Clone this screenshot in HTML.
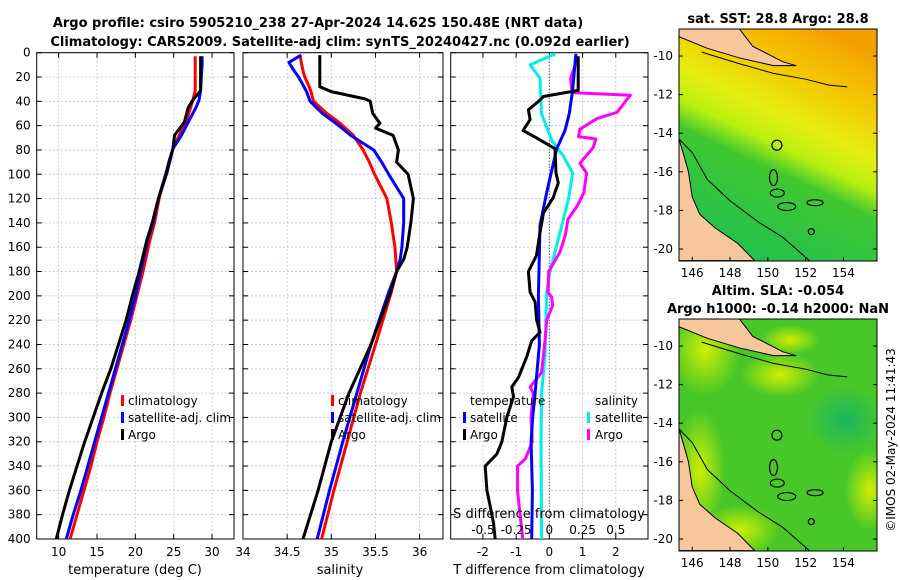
<!DOCTYPE html>
<html><head><meta charset="utf-8"><style>
body{margin:0;background:#fff;}
svg{display:block;font-family:"DejaVu Sans","Liberation Sans",sans-serif;}
</style></head><body>
<svg id="fig" width="900" height="580" viewBox="0 0 900 580" xmlns="http://www.w3.org/2000/svg">
<rect width="900" height="580" fill="#fff"/>
<text x="318" y="27" text-anchor="middle" font-size="13" font-weight="bold">Argo profile: csiro 5905210_238 27-Apr-2024 14.62S 150.48E (NRT data)</text>
<text x="340" y="46" text-anchor="middle" font-size="13" font-weight="bold">Climatology: CARS2009. Satellite-adj clim: synTS_20240427.nc (0.092d earlier)</text>
<g id="panels"></g>
<g id="maps"></g>
<text transform="translate(895,440) rotate(-90)" text-anchor="middle" font-size="12">©IMOS 02-May-2024 11:41:43</text>
</svg>
<script>
// ---- data ----
const tDepth=[3,10,20,31,39,45,57,68,79,89,99,120,140,154,180,200,220,240,260,280,300,320,340,360,380,400];
const tClim=[27.8,27.8,27.8,27.8,27.5,27.2,26.6,25.7,24.9,24.5,24.0,23.1,22.5,21.9,21.0,20.2,19.4,18.5,17.6,16.7,15.9,15.0,14.2,13.3,12.4,11.5];
const tSat=[28.7,28.7,28.6,28.5,28.3,27.9,26.9,26.0,24.9,24.4,24.0,23.0,22.3,21.6,20.7,20.0,19.2,18.3,17.4,16.5,15.6,14.7,13.8,12.9,11.9,11.0];
const tArgo=[28.5,28.5,28.5,28.5,27.5,26.9,26.4,25.1,24.9,24.5,24.1,23.0,22.2,21.5,20.5,19.6,18.8,17.8,16.8,15.6,14.5,13.4,12.4,11.4,10.5,9.7];
const sDepth=[2,8,15,20,28,32,38,40,50,58,62,68,80,90,100,120,140,160,170,180,197,240,280,320,360,400];
const sClim=[34.645,34.66,34.68,34.70,34.75,34.77,34.79,34.80,34.95,35.10,35.16,35.25,35.36,35.43,35.49,35.63,35.68,35.72,35.73,35.74,35.68,35.50,35.33,35.18,35.03,34.89];
const sSat=[34.66,34.52,34.58,34.63,34.69,34.72,34.75,34.76,34.90,35.05,35.12,35.22,35.48,35.57,35.65,35.82,35.82,35.80,35.78,35.74,35.65,35.45,35.29,35.13,34.98,34.84];
const sArgo=[34.87,34.87,34.87,34.87,34.87,35.0,35.38,35.44,35.47,35.55,35.50,35.70,35.76,35.74,35.87,35.93,35.90,35.86,35.82,35.74,35.67,35.45,35.20,35.00,34.85,34.68];
const dtArgoDepth=[3,31,36,39,47,55,64,70,79,99,107,119,132,148,167,180,197,205,220,230,237,250,267,275,283,300,320,330,340,360,373,387,400];
const dtArgo=[0.87,0.87,-0.18,-0.28,-0.63,-0.58,-0.79,-0.39,0.17,0.20,0.27,0.12,-0.18,-0.28,-0.39,-0.63,-0.58,-0.43,-0.38,-0.28,-0.53,-0.68,-0.93,-1.13,-1.08,-1.28,-1.43,-1.58,-1.93,-1.88,-1.78,-1.68,-1.63];
const dtSatDepth=[1,31,50,64,79,115,142,200,240,280,300,320,360,400];
const dtSat=[0.80,0.70,0.60,0.47,0.22,-0.08,-0.28,-0.33,-0.30,-0.43,-0.50,-0.55,-0.51,-0.53];
const dsSatDepth=[1,10,21,50,72,85,99,121,153,180,197,250,280,320,400];
const dsSat=[0.043,-0.145,-0.07,-0.06,0.018,0.105,0.176,0.143,0.068,0.005,-0.02,-0.033,-0.058,-0.063,-0.058];
const dsArgoDepth=[5,21,30,33,35,39,49,54,63,69,71,78,91,99,115,126,137,150,164,180,197,201,208,220,237,263,275,280,300,320,334,340,360,380,400];
const dsArgo=[0.21,0.16,0.168,0.19,0.61,0.58,0.51,0.36,0.23,0.22,0.35,0.33,0.23,0.28,0.26,0.21,0.14,0.12,0.08,-0.005,-0.01,0.0175,0.025,-0.02,-0.033,-0.058,-0.145,-0.12,-0.138,-0.128,-0.18,-0.24,-0.24,-0.22,-0.2];
const depthTicks=[0,20,40,60,80,100,120,140,160,180,200,220,240,260,280,300,320,340,360,380,400];
const tTicks=[10,15,20,25,30];
const sTicks=[34,34.5,35,35.5,36];
const dtTicks=[-2,-1,0,1,2];
const dsTicks=[-0.5,-0.25,0,0.25,0.5];

const NS="http://www.w3.org/2000/svg";
function mk(tag,attrs,parent){const e=document.createElementNS(NS,tag);for(const k in attrs)e.setAttribute(k,attrs[k]);parent.appendChild(e);return e;}
const Y0=52.7,Y1=539;
const yD=d=>Y0+(Y1-Y0)*d/400;
const P=[{x0:36.7,x1:234,lo:7.14,hi:32.86},{x0:243,x1:443,lo:34,hi:36.265},{x0:450.7,x1:648,lo:-2.97,hi:2.97}];
const xs=(p,v)=>p.x0+(p.x1-p.x0)*(v-p.lo)/(p.hi-p.lo);
const G=document.getElementById('panels');

function axes(p,i,ticks,labels,showY){
  const g=mk('g',{},G);
  
  
  ticks.forEach(t=>{const x=xs(p,t);mk('line',{x1:x,x2:x,y1:Y0,y2:Y1,stroke:'#c4c8e4','stroke-width':1,'stroke-dasharray':'2,2'},g);});
  depthTicks.forEach(d=>{const y=yD(d);mk('line',{x1:p.x0,x2:p.x1,y1:y,y2:y,stroke:'#c4c8e4','stroke-width':1,'stroke-dasharray':'2,2'},g);
    mk('line',{x1:p.x0,x2:p.x0+5,y1:y,y2:y,stroke:'#000'},g);mk('line',{x1:p.x1-5,x2:p.x1,y1:y,y2:y,stroke:'#000'},g);
    if(showY){const t=mk('text',{x:p.x0-6,y:y+4,'text-anchor':'end','font-size':12},g);t.textContent=d;
      }});
  ticks.forEach(t=>{const x=xs(p,t);mk('line',{x1:x,x2:x,y1:Y1,y2:Y1-5,stroke:'#000'},g);mk('line',{x1:x,x2:x,y1:Y0,y2:Y0+5,stroke:'#000'},g);
    if(labels){const tx=mk('text',{x:x,y:556,'text-anchor':'middle','font-size':12},g);tx.textContent=t;
      }});
  mk('rect',{x:p.x0,y:Y0,width:p.x1-p.x0,height:Y1-Y0,fill:'none',stroke:'#000','stroke-width':1},g);
  return g;
}
function line(p,depths,vals,color,name,scale){
  const pts=depths.map((d,k)=>xs(p,vals[k]*(scale||1)).toFixed(1)+','+yD(d).toFixed(1)).join(' ');
  const l=mk('polyline',{points:pts,fill:'none',stroke:color,'stroke-width':3,'stroke-linejoin':'round'},G);
  
  
}
function txt(x,y,s,name,anchor,size){const t=mk('text',{x:x,y:y,'text-anchor':anchor||'start','font-size':size||12},G);t.textContent=s;
  return t;}
function legMark(x,y,color){const r=mk('rect',{x:x,y:y-10,width:3,height:11,fill:color},G);
  }

// panel 1
axes(P[0],0,tTicks,true,true);
line(P[0],tDepth,tClim,'#ff0000','temperature-climatology-line');
line(P[0],tDepth,tSat,'#0000ff','temperature-satellite-line');
line(P[0],tDepth,tArgo,'#000000','temperature-argo-line');
txt(135,574,'temperature (deg C)','temperature-axis-title','middle',13);
legMark(121,405,'#ff0000');txt(128,405,'climatology','legend-climatology');
legMark(121,422,'#0000ff');txt(128,422,'satellite-adj. clim','legend-satellite');
legMark(121,439,'#000000');txt(128,439,'Argo','legend-argo');
// panel 2
axes(P[1],1,sTicks,true,false);
line(P[1],sDepth,sClim,'#ff0000','salinity-climatology-line');
line(P[1],sDepth,sSat,'#0000ff','salinity-satellite-line');
line(P[1],sDepth,sArgo,'#000000','salinity-argo-line');
txt(340,574,'salinity','salinity-axis-title','middle',13);
legMark(331,405,'#ff0000');txt(338,405,'climatology','legend-climatology');
legMark(331,422,'#0000ff');txt(338,422,'satellite-adj. clim','legend-satellite');
legMark(331,439,'#000000');txt(338,439,'Argo','legend-argo');
// panel 3
axes(P[2],2,dtTicks,true,false);
mk('line',{x1:xs(P[2],0),x2:xs(P[2],0),y1:Y0,y2:Y1,stroke:'#333','stroke-width':1,'stroke-dasharray':'1,2'},G);
line(P[2],dsSatDepth,dsSat,'#00eeee','salinity-diff-satellite-line',4);
line(P[2],dsArgoDepth,dsArgo,'#ff00ff','salinity-diff-argo-line',4);
line(P[2],dtSatDepth,dtSat,'#0000ff','temperature-diff-satellite-line');
line(P[2],dtArgoDepth,dtArgo,'#000000','temperature-diff-argo-line');
txt(549,574,'T difference from climatology','t-diff-axis-title','middle',13);
txt(549,518,'S difference from climatology','s-diff-axis-title','middle',13);
dsTicks.forEach(v=>txt(xs(P[2],v*4),534,String(v),'s-diff-tick-label','middle',12));
txt(470,405,'temperature','legend-temperature-heading');
legMark(463,422,'#0000ff');txt(470,422,'satellite','legend-t-satellite');
legMark(463,439,'#000000');txt(470,439,'Argo','legend-t-argo');
txt(595,405,'salinity','legend-salinity-heading');
legMark(587,422,'#00eeee');txt(595,422,'satellite','legend-s-satellite');
legMark(587,439,'#ff00ff');txt(595,439,'Argo','legend-s-argo');

// ---- maps ----
const M=document.getElementById('maps');
function map(top,idx,title1,title2){
  const X0=679,X1=877,H=232,lonLo=145.3,latTop=-8.6;
  const px=lon=>X0+(lon-lonLo)*18.9, py=lat=>top+(latTop-lat)*19.3;
  const g=mk('g',{},M);
  
  
  const defs=mk('defs',{},g);
  const clip=mk('clipPath',{id:'clip'+idx},defs);mk('rect',{x:X0,y:top,width:X1-X0,height:H},clip);
  const inner=mk('g',{'clip-path':'url(#clip'+idx+')'},g);
  if(idx===0){
    const lg=mk('linearGradient',{id:'sstg',x1:'0.75',y1:'0',x2:'0.35',y2:'1'},defs);
    [[0,'#f4a000'],[0.22,'#f4c800'],[0.4,'#e6ee10'],[0.52,'#b8f010'],[0.62,'#40c830'],[1,'#20c050']].forEach(s=>mk('stop',{offset:s[0],'stop-color':s[1]},lg));
    mk('rect',{x:X0,y:top,width:X1-X0,height:H,fill:'url(#sstg)'},inner);
  } else {
    mk('rect',{x:X0,y:top,width:X1-X0,height:H,fill:'#48c828'},inner);
    const rg=mk('radialGradient',{id:'ylw'},defs);
    mk('stop',{offset:0,'stop-color':'#d8f000','stop-opacity':0.95},rg);mk('stop',{offset:1,'stop-color':'#d8f000','stop-opacity':0},rg);
    const tg=mk('radialGradient',{id:'teal'},defs);
    mk('stop',{offset:0,'stop-color':'#10b070','stop-opacity':0.8},tg);mk('stop',{offset:1,'stop-color':'#10b070','stop-opacity':0},tg);
    [[705,350,35,45],[780,375,40,22],[700,470,25,60],[740,530,40,25],[870,490,25,40],[790,340,30,15]].forEach(e=>mk('ellipse',{cx:e[0],cy:e[1],rx:e[2],ry:e[3],fill:'url(#ylw)'},inner));
    mk('ellipse',{cx:845,cy:420,rx:40,ry:35,fill:'url(#teal)'},inner);
  }
  // PNG land
  mk('polygon',{points:[[145.3,-8.6],[148.5,-8.6],[149.2,-9.5],[150.8,-10.3],[151.5,-10.5],[150.3,-10.5],[148.5,-10.1],[146.8,-9.6],[145.3,-9.0]].map(a=>px(a[0])+','+py(a[1])).join(' '),fill:'#f7c69b',stroke:'#000','stroke-width':1},inner);
  mk('polyline',{points:[[146.5,-9.8],[148.5,-10.4],[150.3,-10.9],[152,-11.2],[153.2,-11.5],[154.2,-11.6]].map(a=>px(a[0])+','+py(a[1])).join(' '),fill:'none',stroke:'#000','stroke-width':1},inner);
  // Australia
  mk('polygon',{points:[[145.3,-14.3],[145.6,-15.3],[145.8,-16.0],[146.0,-17.3],[146.4,-18.2],[147.2,-18.9],[148.4,-19.7],[149.3,-20.6],[145.3,-20.6]].map(a=>px(a[0])+','+py(a[1])).join(' '),fill:'#f7c69b',stroke:'#000','stroke-width':1},inner);
  mk('polyline',{points:[[145.3,-14.3],[146.0,-15.0],[146.8,-16.4],[148.0,-17.5],[149.5,-18.6],[150.8,-19.4],[152.2,-20.6]].map(a=>px(a[0])+','+py(a[1])).join(' '),fill:'none',stroke:'#000','stroke-width':1},inner);
  // reefs
  [[150.3,-16.3,4,8],[150.5,-17.1,7,4],[151.0,-17.8,9,4],[152.5,-17.6,8,3],[152.3,-19.1,3,3]].forEach(e=>mk('ellipse',{cx:px(e[0]),cy:py(e[1]),rx:e[2],ry:e[3],fill:'none',stroke:'#000','stroke-width':1.2},inner));
  const c=mk('circle',{cx:px(150.48),cy:py(-14.62),r:5,fill:'none',stroke:'#000','stroke-width':1.2},g);
  
  
  mk('rect',{x:X0,y:top,width:X1-X0,height:H,fill:'none',stroke:'#000'},g);
  [-10,-12,-14,-16,-18,-20].forEach(l=>{const y=py(l);mk('line',{x1:X0,x2:X0+4,y1:y,y2:y,stroke:'#000'},g);mk('line',{x1:X1-4,x2:X1,y1:y,y2:y,stroke:'#000'},g);
    const t=mk('text',{x:X0-6,y:y+4,'text-anchor':'end','font-size':12},g);t.textContent=l;
    });
  [146,148,150,152,154].forEach(l=>{const x=px(l);mk('line',{x1:x,x2:x,y1:top+H,y2:top+H-4,stroke:'#000'},g);
    const t=mk('text',{x:x,y:top+H+16,'text-anchor':'middle','font-size':12},g);t.textContent=l;
    });
  if(title1){const t=mk('text',{x:778,y:top-(title2?24:6),'text-anchor':'middle','font-size':13,'font-weight':'bold'},g);t.textContent=title1;
    }
  if(title2){const t=mk('text',{x:778,y:top-6,'text-anchor':'middle','font-size':13,'font-weight':'bold'},g);t.textContent=title2;
    }
}
map(29,0,'sat. SST: 28.8 Argo: 28.8');
map(319,1,'Altim. SLA: -0.054','Argo h1000: -0.14 h2000: NaN');
</script>
</body></html>
